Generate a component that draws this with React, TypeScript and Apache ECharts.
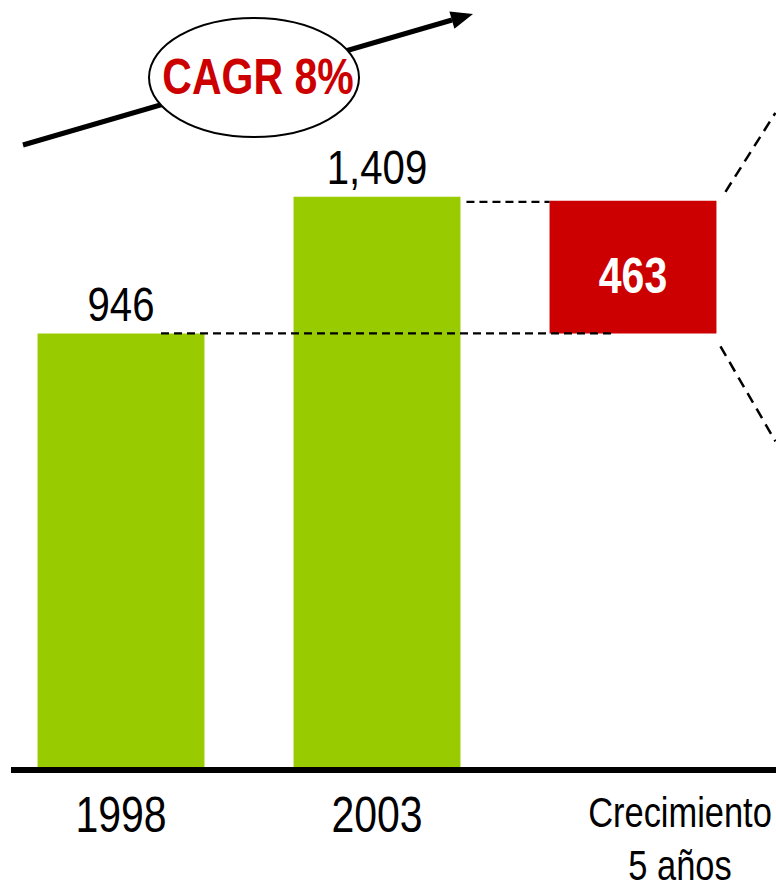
import React, { useEffect, useRef } from "react";
import * as echarts from "echarts";

const CATEGORIES = ["1998", "2003", "Crecimiento\n5 años"];
const YEARS_SPAN = 5;
const VALUES = [946, 1409];
const Y_MIN = -524;
const Y_MAX = 1700;

const GREEN = "#99CC00";
const RED = "#CC0000";
const FONT = '"Liberation Sans", Arial, sans-serif';
const NARROW = 0.82;

export default function App() {
  const ref = useRef<HTMLDivElement>(null);

  useEffect(() => {
    document.body.style.margin = "0";
    document.body.style.overflow = "hidden";
    const chart = echarts.init(ref.current!, null, { renderer: "svg" });
    const start = VALUES[0];
    const end = VALUES[1];
    const growth = end - start;
    const cagr = Math.round((Math.pow(end / start, 1 / YEARS_SPAN) - 1) * 100);
    const fmt = (v: number) => v.toLocaleString("en-US");
    const BAR_RATIO = 0.652;

    const narrowText = (
      text: string,
      x: number,
      y: number,
      fontSize: number,
      fill: string,
      bold = false
    ) => ({
      type: "text",
      x,
      y,
      scaleX: NARROW,
      style: {
        text,
        x: 0,
        y: 0,
        align: "center",
        verticalAlign: "middle",
        fontFamily: FONT,
        fontSize,
        fontWeight: bold ? "bold" : "normal",
        fill,
      },
    });

    chart.setOption({
      animation: false,
      grid: { left: -7, right: 15, top: 111, bottom: 123, outerBoundsMode: "none", containLabel: false },
      xAxis: {
        type: "category",
        data: CATEGORIES,
        axisLine: { show: false },
        axisTick: { show: false },
        splitLine: { show: false },
        axisLabel: { show: false },
      },
      yAxis: {
        type: "value",
        min: Y_MIN,
        max: Y_MAX,
        show: false,
        splitLine: { show: false },
      },
      series: [
        {
          type: "custom",
          z: 2,
          data: VALUES.map((v, i) => [i, v]),
          renderItem: (params: any, api: any) => {
            const i = api.value(0);
            const v = api.value(1);
            const top = api.coord([i, v]);
            const bottom = api.coord([i, Y_MIN]);
            const w = api.size([1, 0])[0] * BAR_RATIO;
            return {
              type: "group",
              children: [
                {
                  type: "rect",
                  shape: { x: top[0] - w / 2, y: top[1], width: w, height: bottom[1] - top[1] },
                  style: { fill: GREEN },
                },
                narrowText(fmt(v), top[0], top[1] - 30, 49, "#000"),
              ],
            };
          },
        },
        {
          type: "custom",
          z: 3,
          data: [[2, start, end]],
          renderItem: (params: any, api: any) => {
            const i = api.value(0);
            const lo = api.value(1);
            const hi = api.value(2);
            const pTop = api.coord([i, hi]);
            const pBot = api.coord([i, lo]);
            const w = api.size([1, 0])[0] * BAR_RATIO;
            const left = pTop[0] - w / 2;
            const right = pTop[0] + w / 2;
            const top = pTop[1] + 4;
            const bot = pBot[1];
            const p0 = api.coord([0, lo]);
            const p1 = api.coord([1, hi]);
            const dash = { stroke: "#000", lineWidth: 2.2, lineDash: [8, 5] };
            const dash2 = { stroke: "#000", lineWidth: 2.5, lineDash: [11, 7] };
            return {
              type: "group",
              children: [
                {
                  type: "rect",
                  shape: { x: left, y: top, width: w, height: bot - top },
                  style: { fill: RED },
                },
                narrowText(fmt(growth), pTop[0], (top + bot) / 2 + 9, 50, "#fff", true),
                {
                  type: "line",
                  shape: { x1: p0[0] + 40, y1: bot, x2: pTop[0] - 20, y2: bot },
                  style: dash,
                },
                {
                  type: "line",
                  shape: { x1: p1[0] + w / 2 + 6, y1: top + 1, x2: left, y2: top + 1 },
                  style: dash,
                },
                {
                  type: "line",
                  shape: { x1: right + 9, y1: top - 9, x2: right + 59, y2: top - 88 },
                  style: dash2,
                },
                {
                  type: "line",
                  shape: { x1: right + 4, y1: bot + 13, x2: right + 59, y2: bot + 108 },
                  style: dash2,
                },
              ],
            };
          },
        },
        {
          type: "custom",
          z: 4,
          data: CATEGORIES.map((c, i) => [i, Y_MIN]),
          renderItem: (params: any, api: any) => {
            const i = api.value(0);
            const p = api.coord([i, Y_MIN]);
            const lines = CATEGORIES[i].split("\n");
            if (lines.length === 1) {
              return narrowText(lines[0], p[0], p[1] + 48, 50, "#000");
            }
            return {
              type: "group",
              children: lines.map((s, j) =>
                narrowText(s, p[0] + 47, p[1] + 45 + j * 53, 42, "#000")
              ),
            };
          },
        },
      ],
      graphic: [
        {
          type: "line",
          z: 10,
          shape: { x1: 11, y1: 770, x2: 776, y2: 770 },
          style: { stroke: "#000", lineWidth: 6 },
        },
        {
          type: "line",
          z: 10,
          shape: { x1: 23, y1: 145, x2: 452, y2: 20 },
          style: { stroke: "#000", lineWidth: 5 },
        },
        {
          type: "polygon",
          z: 10,
          shape: {
            points: [
              [473, 14],
              [454.4, 28.8],
              [449.4, 11.5],
            ],
          },
          style: { fill: "#000" },
        },
        {
          type: "ellipse",
          z: 11,
          shape: { cx: 254, cy: 77.5, rx: 105, ry: 59.5 },
          style: { fill: "#fff", stroke: "#000", lineWidth: 2 },
        },
        {
          type: "text",
          z: 12,
          x: 258,
          y: 77,
          scaleX: NARROW,
          style: {
            text: `CAGR ${cagr}%`,
            x: 0,
            y: 0,
            align: "center",
            verticalAlign: "middle",
            fontFamily: FONT,
            fontSize: 50,
            fontWeight: "bold",
            fill: RED,
          },
        },
      ],
    });

    return () => chart.dispose();
  }, []);

  return <div ref={ref} style={{ width: 776, height: 890 }} />;
}
